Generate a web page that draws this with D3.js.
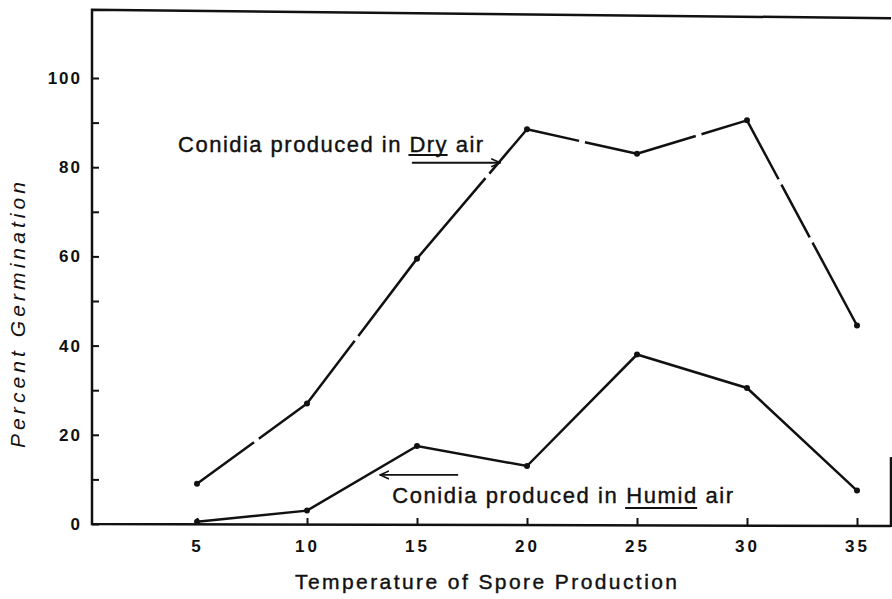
<!DOCTYPE html>
<html>
<head>
<meta charset="utf-8">
<script src="https://cdn.jsdelivr.net/npm/d3@7"></script>
<style>
  body { margin: 0; background: #fff; }
  svg { display: block; }
</style>
</head>
<body>
<script>
var width = 892;
var height = 599;

// data
var temps = [5, 10, 15, 20, 25, 30, 35];
var dryAir = [9, 27, 59.5, 88.5, 83, 90.5, 44.5];
var humidAir = [0.5, 3, 17.5, 13, 38, 30.5, 7.5];
var yTickValues = [0, 10, 20, 30, 40, 50, 60, 70, 80, 90, 100];

// where the scanned dry-air line has breaks (fraction along each segment)
var dryBreaks = [[0.54], [0.45], [0.64], [0.5], [0.56], [0.3, 0.57]];

var x = d3.scaleLinear().domain([5, 35]).range([197, 857]);
var y = d3.scaleLinear().domain([0, 100]).range([524, 78]);

var axisX = 92;
var ink = "#111";
var font = "'Liberation Sans', Arial, sans-serif";

var svg = d3.select("body")
    .append("svg")
    .attr("width", width)
    .attr("height", height);

// frame: left axis, bottom axis, top line, bit of right edge
var frame = svg.append("g")
    .attr("stroke", ink)
    .attr("stroke-width", 2.5)
    .attr("fill", "none");
frame.append("path")
    .attr("d", "M" + (width - 1) + "," + y(113.4) + "L" + axisX + "," + y(115.3) + "L" + axisX + "," + y(0) + "L" + (width - 1) + "," + (y(0) + 2));
frame.append("line")
    .attr("x1", width - 1).attr("x2", width - 1)
    .attr("y1", y(15)).attr("y2", y(0) + 3);

// y axis, ticks on the inside
var yAxis = d3.axisLeft(y)
    .tickValues(yTickValues)
    .tickSize(-7)
    .tickPadding(10)
    .tickFormat(function(d) { return d % 20 === 0 ? d : ""; });

svg.append("g")
    .attr("transform", "translate(" + axisX + ",0)")
    .call(yAxis)
    .call(function(g) { g.select(".domain").remove(); })
    .call(function(g) {
        g.selectAll("line").attr("stroke", ink).attr("stroke-width", 2);
        g.selectAll("text")
            .attr("fill", ink)
            .attr("font-family", font)
            .attr("font-weight", "bold")
            .attr("font-size", "17px")
            .attr("letter-spacing", "2px");
    });

// x axis, ticks pointing up
var xAxis = d3.axisBottom(x)
    .tickValues(temps)
    .tickSize(-7)
    .tickPadding(15);

svg.append("g")
    .attr("transform", "translate(0," + (y(0) + 1) + ")")
    .call(xAxis)
    .call(function(g) { g.select(".domain").remove(); })
    .call(function(g) {
        g.selectAll("line").attr("stroke", ink).attr("stroke-width", 2);
        g.selectAll("text")
            .attr("fill", ink)
            .attr("font-family", font)
            .attr("font-weight", "bold")
            .attr("font-size", "17px")
            .attr("letter-spacing", "3px");
    });

// axis titles
svg.append("text")
    .attr("x", 295)
    .attr("y", 589)
    .attr("textLength", 382)
    .attr("lengthAdjust", "spacing")
    .attr("font-family", font)
    .attr("font-size", "21px")
    .attr("fill", ink)
    .attr("stroke", ink)
    .attr("stroke-width", 0.4)
    .text("Temperature of Spore Production");

svg.append("text")
    .attr("transform", "translate(25,448) rotate(-90)")
    .attr("textLength", 266)
    .attr("lengthAdjust", "spacing")
    .attr("font-family", font)
    .attr("font-style", "italic")
    .attr("font-size", "21px")
    .attr("fill", ink)
    .text("Percent  Germination");

// dry air line: one path per segment so the scan breaks can be shown
var dryPts = temps.map(function(t, i) { return [x(t), y(dryAir[i])]; });
for (var i = 0; i < dryPts.length - 1; i++) {
    var a = dryPts[i], b = dryPts[i + 1];
    var L = Math.hypot(b[0] - a[0], b[1] - a[1]);
    var dash = [];
    var prev = 0;
    dryBreaks[i].forEach(function(f) {
        dash.push(Math.max(0, (f - prev) * L - 3), 6);
        prev = f;
    });
    dash.push(L);
    svg.append("path")
        .attr("d", d3.line()([a, b]))
        .attr("stroke", ink)
        .attr("stroke-width", 2.5)
        .attr("fill", "none")
        .attr("stroke-dasharray", dash.join(","));
}

var line = d3.line()
    .x(function(d, i) { return x(temps[i]); })
    .y(function(d) { return y(d); });

svg.append("path")
    .datum(humidAir)
    .attr("d", line)
    .attr("stroke", ink)
    .attr("stroke-width", 2.5)
    .attr("fill", "none");

svg.selectAll("circle.dry")
    .data(dryAir)
    .enter()
    .append("circle")
    .attr("class", "dry")
    .attr("cx", function(d, i) { return x(temps[i]); })
    .attr("cy", function(d) { return y(d); })
    .attr("r", 3)
    .attr("fill", ink);

svg.selectAll("circle.humid")
    .data(humidAir)
    .enter()
    .append("circle")
    .attr("class", "humid")
    .attr("cx", function(d, i) { return x(temps[i]); })
    .attr("cy", function(d) { return y(d); })
    .attr("r", 3)
    .attr("fill", ink);

// annotations
svg.append("defs").append("marker")
    .attr("id", "head")
    .attr("viewBox", "0 -5 10 10")
    .attr("refX", 9)
    .attr("refY", 0)
    .attr("markerWidth", 10)
    .attr("markerHeight", 10)
    .attr("markerUnits", "userSpaceOnUse")
    .attr("orient", "auto")
    .append("path")
    .attr("d", "M0,-4L9,0L0,4")
    .attr("fill", "none")
    .attr("stroke", ink)
    .attr("stroke-width", 1.6);

// text with one word underlined by hand (underline sits ulOffset below baseline)
function label(t, v, len, before, under, after, ulOffset) {
    var txt = svg.append("text")
        .attr("x", x(t))
        .attr("y", y(v))
        .attr("textLength", len)
        .attr("lengthAdjust", "spacing")
        .attr("font-family", font)
        .attr("font-size", "22px")
        .attr("fill", ink)
        .attr("stroke", ink)
        .attr("stroke-width", 0.4)
        .text(before + under + after);
    var node = txt.node();
    var i0 = before.length, i1 = before.length + under.length - 1;
    var x0 = node.getStartPositionOfChar(i0).x;
    var x1 = node.getEndPositionOfChar(i1).x;
    svg.append("line")
        .attr("x1", x0 - 1).attr("x2", x1 + 1)
        .attr("y1", y(v) + ulOffset).attr("y2", y(v) + ulOffset)
        .attr("stroke", ink)
        .attr("stroke-width", 2);
}

label(4.14, 83.4, 305, "Conidia produced in ", "Dry", " air", 3);
label(13.87, 4.7, 341, "Conidia produced in ", "Humid", " air", 5);

svg.append("line")
    .attr("x1", x(14.77)).attr("y1", y(81))
    .attr("x2", x(18.78)).attr("y2", y(81))
    .attr("stroke", ink)
    .attr("stroke-width", 1.8)
    .attr("marker-end", "url(#head)");

svg.append("line")
    .attr("x1", x(16.87)).attr("y1", y(11))
    .attr("x2", x(13.32)).attr("y2", y(11))
    .attr("stroke", ink)
    .attr("stroke-width", 1.8)
    .attr("marker-end", "url(#head)");
</script>
</body>
</html>
